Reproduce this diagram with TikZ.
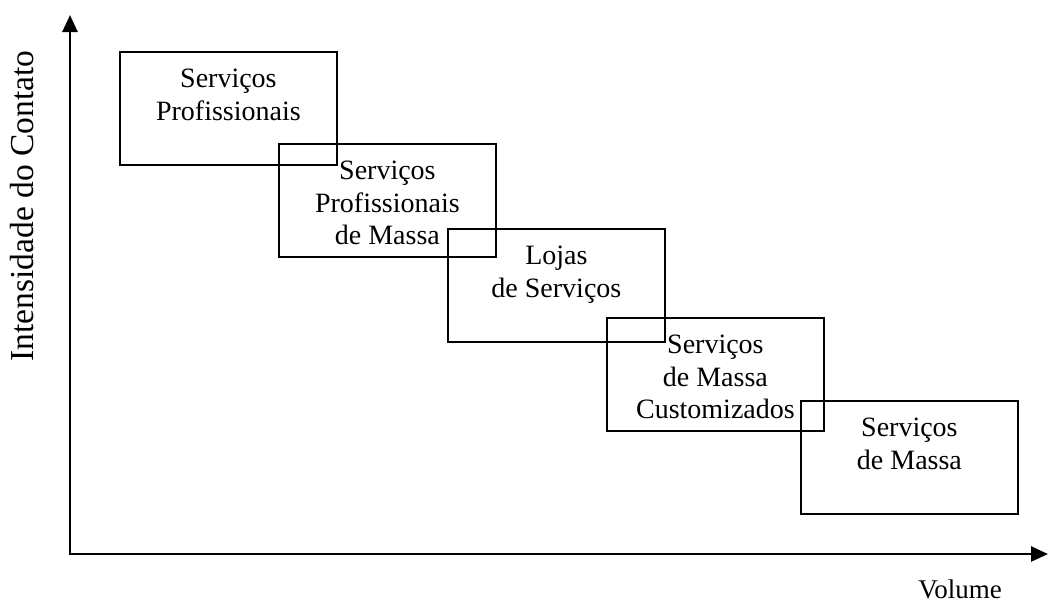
\documentclass[tikz,border=0pt]{standalone}
\usepackage{fontspec}
\setmainfont{Liberation Serif}
\usetikzlibrary{arrows.meta}
\begin{document}
\begin{tikzpicture}[x=1pt,y=-1pt,
  axis/.style={line width=2.6pt, line join=miter,
    {Triangle[width=15pt,length=17pt]}-{Triangle[width=15pt,length=17pt]}},
  stage/.style={draw, line width=1.8pt, minimum width=217pt, minimum height=113pt,
    inner sep=0pt, anchor=north west},
  stagetext/.style={anchor=north, align=center, inner sep=0pt,
    font=\fontsize{28}{32.5}\selectfont, yshift=-18pt},
  axislabel/.style={inner sep=0pt, anchor=base}
  ]
\useasboundingbox (0,0) rectangle (1048,603);

% axes
\coordinate (ytop) at (70,15);
\coordinate (o) at (70,554);
\coordinate (xend) at (1048,554);
\draw[axis] (ytop) -- (o) -- (xend);

\node[axislabel, rotate=90, font=\fontsize{33.5}{38}\selectfont] (ylab) at (33,206) {Intensidade do Contato};
\node[axislabel, font=\fontsize{27}{32}\selectfont] (xlab) at (960,598) {Volume};

% service process types
\node[stage] (b1) at (119,51) {};
\node[stage] (b2) at (278,143) {};
\node[stage] (b3) at (447,228) {};
\node[stage] (b4) at (606,317) {};
\node[stage] (b5) at (800,400) {};

\node[stagetext] (t1) at (b1.north) {Serviços\\Profissionais};
\node[stagetext] (t2) at (b2.north) {Serviços\\Profissionais\\de Massa};
\node[stagetext] (t3) at (b3.north) {Lojas\\de Serviços};
\node[stagetext] (t4) at (b4.north) {Serviços\\de Massa\\Customizados};
\node[stagetext] (t5) at (b5.north) {Serviços\\de Massa};
\end{tikzpicture}
\end{document}
